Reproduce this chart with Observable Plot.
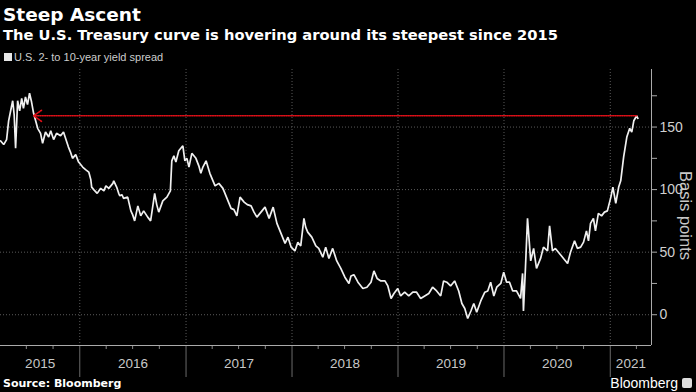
<!DOCTYPE html>
<html>
<head>
<meta charset="utf-8">
<script src="https://cdn.jsdelivr.net/npm/d3@7"></script>
<script src="https://cdn.jsdelivr.net/npm/@observablehq/plot@0.6"></script>
<style>
  html, body { margin: 0; padding: 0; background: #000; }
  body { width: 696px; height: 392px; position: relative; overflow: hidden; font-family: "DejaVu Sans", sans-serif; }
  .t { position: absolute; white-space: nowrap; color: #fff; z-index: 2; }
  #title { left: 3px; top: 4px; font-size: 18.5px; font-weight: bold; }
  #subtitle { left: 3px; top: 26px; font-size: 14.7px; font-weight: bold; }
  #legend { left: 4px; top: 51px; font-size: 11px; color: #ccc; font-family: "Liberation Sans", sans-serif; }
  #legend .sw { display: inline-block; width: 8px; height: 8px; background: #e6e6e6; margin-right: 2px; vertical-align: 0px; }
  #source { left: 3px; top: 377px; font-size: 11px; font-weight: bold; font-family: "DejaVu Sans", sans-serif; }
  #brand { right: 18px; top: 375px; font-size: 14px; font-family: "Liberation Sans", sans-serif; }
  #logo { position: absolute; right: 4px; top: 378px; width: 10px; height: 10px; background: #ddd; border-radius: 2px; }
  #chart { position: absolute; left: 0; top: 60px; z-index: 1; }
</style>
</head>
<body>
<div class="t" id="title">Steep Ascent</div>
<div class="t" id="subtitle">The U.S. Treasury curve is hovering around its steepest since 2015</div>
<div class="t" id="legend"><span class="sw"></span>U.S. 2- to 10-year yield spread</div>
<div id="chart"></div>
<div class="t" id="source">Source: Bloomberg</div>
<div class="t" id="brand">Bloomberg</div>
<div id="logo"></div>
<script>
const dates = [
"2015-04-03","2015-04-14","2015-04-24","2015-05-01","2015-05-08","2015-05-15","2015-05-20","2015-05-25",
"2015-06-01","2015-06-08","2015-06-15","2015-06-21","2015-06-28","2015-07-05","2015-07-12","2015-07-19",
"2015-07-26","2015-08-02","2015-08-09","2015-08-19","2015-08-26","2015-09-05","2015-09-16","2015-09-23",
"2015-10-03","2015-10-13","2015-10-27","2015-11-06","2015-11-13","2015-11-23","2015-11-30","2015-12-07",
"2015-12-18","2015-12-28","2016-01-04","2016-01-11","2016-01-21","2016-02-01","2016-02-08","2016-02-11",
"2016-02-18","2016-03-01","2016-03-13","2016-03-24","2016-03-31","2016-04-10","2016-04-24","2016-04-27",
"2016-05-07","2016-05-14","2016-05-18","2016-05-25","2016-05-31","2016-06-14","2016-06-25","2016-07-01",
"2016-07-08","2016-07-19","2016-07-29","2016-08-08","2016-08-22","2016-09-01","2016-09-15","2016-09-22",
"2016-09-29","2016-10-13","2016-10-27","2016-11-08","2016-11-13","2016-11-20","2016-11-27","2016-12-07",
"2016-12-21","2016-12-28","2017-01-04","2017-01-11","2017-01-21","2017-02-04","2017-02-14","2017-02-21",
"2017-02-28","2017-03-11","2017-03-24","2017-04-11","2017-04-24","2017-05-08","2017-05-22","2017-06-05",
"2017-06-15","2017-06-25","2017-07-06","2017-07-20","2017-07-31","2017-08-13","2017-08-23","2017-09-02",
"2017-09-16","2017-09-30","2017-10-14","2017-10-28","2017-11-10","2017-11-24","2017-12-08","2017-12-18",
"2017-12-29","2018-01-11","2018-01-21","2018-01-31","2018-02-11","2018-02-17","2018-02-24","2018-03-10",
"2018-03-24","2018-04-03","2018-04-17","2018-04-27","2018-05-08","2018-05-21","2018-06-04","2018-06-18",
"2018-07-02","2018-07-16","2018-07-23","2018-08-02","2018-08-16","2018-09-02","2018-09-16","2018-09-30",
"2018-10-10","2018-10-21","2018-11-03","2018-11-17","2018-11-27","2018-12-08","2018-12-18","2018-12-31",
"2019-01-10","2019-01-24","2019-02-07","2019-02-21","2019-03-06","2019-03-20","2019-04-03","2019-04-17",
"2019-04-30","2019-05-14","2019-05-28","2019-06-07","2019-06-18","2019-07-01","2019-07-15","2019-07-29",
"2019-08-09","2019-08-19","2019-08-29","2019-09-09","2019-09-19","2019-09-29","2019-10-13","2019-10-27",
"2019-11-06","2019-11-16","2019-11-27","2019-12-07","2019-12-21","2019-12-31","2020-01-10","2020-01-20",
"2020-01-31","2020-02-13","2020-02-27","2020-03-05","2020-03-08","2020-03-15","2020-03-22","2020-04-02",
"2020-04-12","2020-04-22","2020-05-06","2020-05-16","2020-05-30","2020-06-06","2020-06-16","2020-06-26",
"2020-07-10","2020-07-24","2020-08-07","2020-08-17","2020-08-31","2020-09-10","2020-09-21","2020-10-01",
"2020-10-11","2020-10-18","2020-10-25","2020-11-04","2020-11-11","2020-11-21","2020-12-02","2020-12-12",
"2020-12-22","2021-01-03","2021-01-10","2021-01-20","2021-01-30","2021-02-06","2021-02-16","2021-02-27",
"2021-03-09","2021-03-16","2021-03-23","2021-04-02","2021-04-06"
];
const spread = [
139,136,140,155,163,171,160,133,
171,163,173,165,174,168,177,170,
161,155,149,145,137,146,142,147,
140,145,143,146,141,134,130,125,
128,122,120,118,116,114,108,102,
100,97,101,99,103,101,105,107,
102,97,95,96,93,94,83,80,
75,87,79,83,78,75,97,88,
82,91,94,99,123,127,122,131,
135,123,125,118,129,125,119,113,
118,123,113,103,105,101,93,85,
84,79,94,90,88,87,82,78,
82,86,77,86,73,65,57,62,
54,51,58,55,77,70,66,62,
55,53,46,54,45,53,43,37,
30,25,31,32,26,21,22,26,
35,29,27,27,23,13,17,21,
15,18,15,18,18,13,15,17,
22,19,15,27,26,23,27,19,
9,5,-3,3,9,2,11,18,
19,26,15,22,25,34,26,26,
19,19,13,33,3,38,77,43,
53,37,45,54,51,71,51,53,
49,45,41,50,59,53,54,58,
67,59,73,77,67,81,79,82,
83,94,102,89,102,107,126,142,
149,146,155,159,157
];
const yearLabels = ["2015","2016","2017","2018","2019","2020","2021"];
const yTickValues = [0, 50, 100, 150];
const yMinorTicks = [25, 75, 125, 175];
const xDomain = ["2015-04-03", "2021-05-23"];
const yDomain = [-24.6, 196];
const arrowFrom = { date: "2021-04-02", value: 159 };
const arrowTo = { date: "2015-07-26", value: 159 };

const parse = d3.utcParse("%Y-%m-%d");
const data = dates.map((d, i) => ({ date: parse(d), value: spread[i] }));
const x0 = parse(xDomain[0]), x1 = parse(xDomain[1]);
const yearStarts = d3.utcYear.range(d3.utcYear.ceil(x0), x1);
const quarterTicks = d3.utcMonth.every(3).range(x0, x1).filter(d => d.getUTCMonth() !== 0);
const labelData = yearLabels.map(y => {
  const s = new Date(Date.UTC(+y, 0, 1)), e = new Date(Date.UTC(+y + 1, 0, 1));
  const a = s < x0 ? x0 : s, b = e > x1 ? x1 : e;
  return { label: y, date: new Date((+a + +b) / 2) };
});

const tickFont = "'Liberation Sans', sans-serif";
const chart = Plot.plot({
  width: 696,
  height: 320,
  marginTop: 9,
  marginBottom: 35,
  marginLeft: 0,
  marginRight: 45,
  style: { background: "none", color: "#c8c8c8", fontFamily: tickFont, overflow: "visible" },
  x: { type: "utc", domain: [x0, x1] },
  y: { domain: yDomain },
  marks: [
    Plot.gridX(yearStarts, { stroke: "#5a5a5a", strokeOpacity: 1, strokeDasharray: "1,2" }),
    Plot.gridY(yTickValues, { stroke: "#5a5a5a", strokeOpacity: 1, strokeDasharray: "1,2" }),
    Plot.axisX(yearStarts, { tickSize: 32, tickFormat: () => "", stroke: "#6a6a6a", label: null }),
    Plot.axisX(quarterTicks, { tickSize: 4, tickFormat: () => "", stroke: "#888", label: null }),
    Plot.text(labelData, { x: "date", text: "label", frameAnchor: "bottom", dy: 22, fill: "#c8c8c8", fontSize: 13.5 }),
    Plot.axisY(yTickValues, { anchor: "right", tickSize: 5, tickPadding: 3, fontSize: 14, stroke: "#aaa", fill: "#d0d0d0", label: null }),
    Plot.axisY(yMinorTicks, { anchor: "right", tickSize: 5, tickFormat: () => "", stroke: "#aaa", label: null }),
    Plot.ruleX([x1], { stroke: "#aaa", strokeWidth: 1 }),
    Plot.ruleY([yDomain[0]], { stroke: "#aaa", strokeWidth: 1 }),
    Plot.text(["Basis points"], { frameAnchor: "right", textAnchor: "middle", dx: 34, dy: 8, rotate: 90, fontSize: 16.5, fill: "#c8c8c8" }),
    Plot.line(data, { x: "date", y: "value", stroke: "#f0f0f0", strokeWidth: 1.7, strokeLinejoin: "miter" }),
    Plot.arrow([{ ...arrowFrom, to: arrowTo }], {
      x1: d => parse(d.date), y1: "value", x2: d => parse(d.to.date), y2: d => d.to.value,
      stroke: "#e01018", strokeWidth: 1.6, strokeDasharray: "1,1.3", headLength: 9, headAngle: 70
    })
  ]
});
document.getElementById("chart").appendChild(chart);
</script>
</body>
</html>
